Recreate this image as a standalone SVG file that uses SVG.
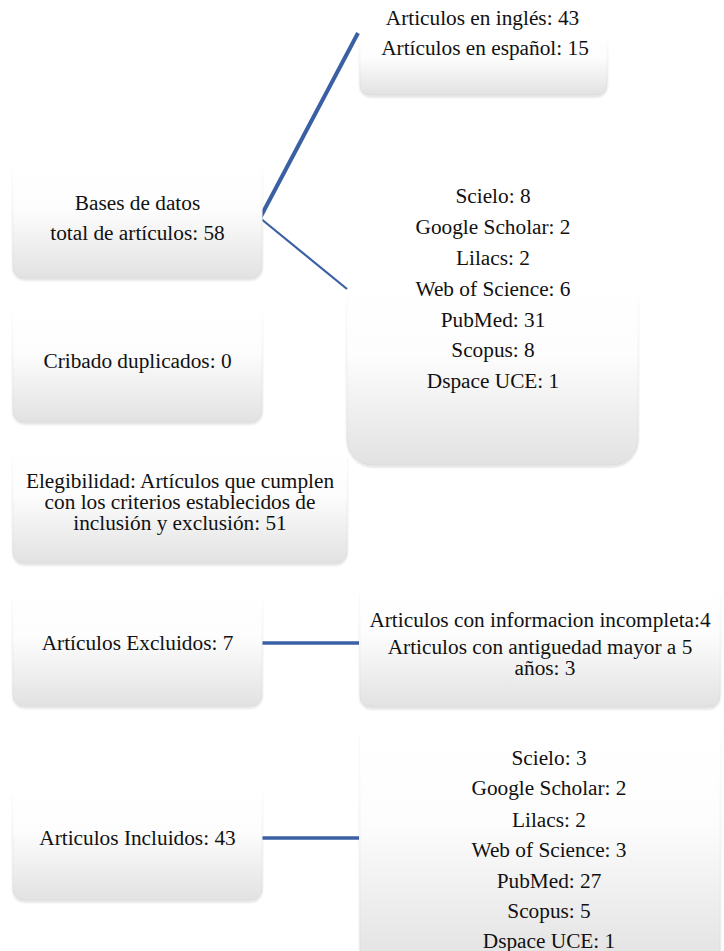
<svg xmlns="http://www.w3.org/2000/svg" width="724" height="951" viewBox="0 0 724 951">
  <defs>
    <linearGradient id="g" x1="0" y1="0" x2="0" y2="1">
      <stop offset="0" stop-color="#ffffff"/>
      <stop offset="0.4" stop-color="#fdfdfd"/>
      <stop offset="1" stop-color="#e2e2e2"/>
    </linearGradient>
    <linearGradient id="edge" x1="0" y1="0" x2="0" y2="1">
      <stop offset="0" stop-color="#ffffff" stop-opacity="0"/>
      <stop offset="0.45" stop-color="#f0f0f0"/>
      <stop offset="1" stop-color="#dadada"/>
    </linearGradient>
    <filter id="sh" x="-10%" y="-10%" width="120%" height="130%">
      <feGaussianBlur in="SourceAlpha" stdDeviation="1.2"/>
      <feOffset dy="2" result="b"/>
      <feComponentTransfer><feFuncA type="linear" slope="0.12"/></feComponentTransfer>
      <feMerge><feMergeNode/><feMergeNode in="SourceGraphic"/></feMerge>
    </filter>
  </defs>
  <style>
    .box { fill: url(#g); stroke: url(#edge); stroke-width: 1; filter: url(#sh); }
    text { font-family: "Liberation Serif", "Times New Roman", Tinos, "DejaVu Serif", serif; font-size: 21.3px; fill: #111111; text-anchor: middle; }
    .conn { stroke: #3b5fa3; fill: none; stroke-linecap: butt; }
  </style>

  <rect width="724" height="951" fill="#ffffff"/>

  <g id="connectors">
    <line class="conn" x1="260" y1="218" x2="358" y2="33" stroke-width="4"/>
    <line class="conn" x1="260" y1="218" x2="347" y2="289" stroke-width="2.2"/>
    <line class="conn" x1="261" y1="643" x2="359" y2="643" stroke-width="3.5"/>
    <line class="conn" x1="261" y1="838" x2="359" y2="838" stroke-width="3.5"/>
  </g>

  <g id="bases">
    <rect class="box" x="13" y="163" width="249" height="115" rx="11"/>
    <text x="137.5" y="210" font-family="Liberation Serif, serif">Bases de datos</text>
    <text x="137.5" y="240" font-family="Liberation Serif, serif">total de artículos: 58</text>
  </g>

  <g id="idiomas">
    <rect class="box" x="360" y="33" width="247" height="62" rx="10"/>
    <text x="482.5" y="25">Articulos en inglés: 43</text>
    <text x="485" y="55">Artículos en español: 15</text>
  </g>

  <g id="fuentes">
    <rect class="box" x="347" y="280" width="291" height="185" rx="26"/>
    <text x="493" y="203">Scielo: 8</text>
    <text x="493" y="234">Google Scholar: 2</text>
    <text x="493" y="265">Lilacs: 2</text>
    <text x="493" y="296">Web of Science: 6</text>
    <text x="493" y="327">PubMed: 31</text>
    <text x="493" y="357">Scopus: 8</text>
    <text x="493" y="388">Dspace UCE: 1</text>
  </g>

  <g id="cribado">
    <rect class="box" x="13" y="307" width="249" height="115" rx="11"/>
    <text x="137.5" y="368">Cribado duplicados: 0</text>
  </g>

  <g id="elegibilidad">
    <rect class="box" x="13" y="448" width="334" height="115" rx="11"/>
    <text x="180" y="488">Elegibilidad: Artículos que cumplen</text>
    <text x="180" y="509">con los criterios establecidos de</text>
    <text x="180" y="530">inclusión y exclusión: 51</text>
  </g>

  <g id="excluidos">
    <rect class="box" x="13" y="591" width="249" height="115" rx="11"/>
    <text x="137.5" y="650">Artículos Excluidos: 7</text>
  </g>

  <g id="motivos">
    <rect class="box" x="360" y="585" width="360" height="122" rx="11"/>
    <text x="540" y="627">Articulos con informacion incompleta:4</text>
    <text x="540" y="654">Articulos con antiguedad mayor a 5</text>
    <text x="545" y="675">años: 3</text>
  </g>

  <g id="incluidos">
    <rect class="box" x="13" y="785" width="249" height="115" rx="11"/>
    <text x="137.5" y="845">Articulos Incluidos: 43</text>
  </g>

  <g id="fuentes-incluidos">
    <rect class="box" x="360" y="725" width="360" height="240" rx="14"/>
    <text x="549" y="765">Scielo: 3</text>
    <text x="549" y="795">Google Scholar: 2</text>
    <text x="549" y="827">Lilacs: 2</text>
    <text x="549" y="857">Web of Science: 3</text>
    <text x="549" y="888">PubMed: 27</text>
    <text x="549" y="918">Scopus: 5</text>
    <text x="549" y="948">Dspace UCE: 1</text>
  </g>
</svg>
